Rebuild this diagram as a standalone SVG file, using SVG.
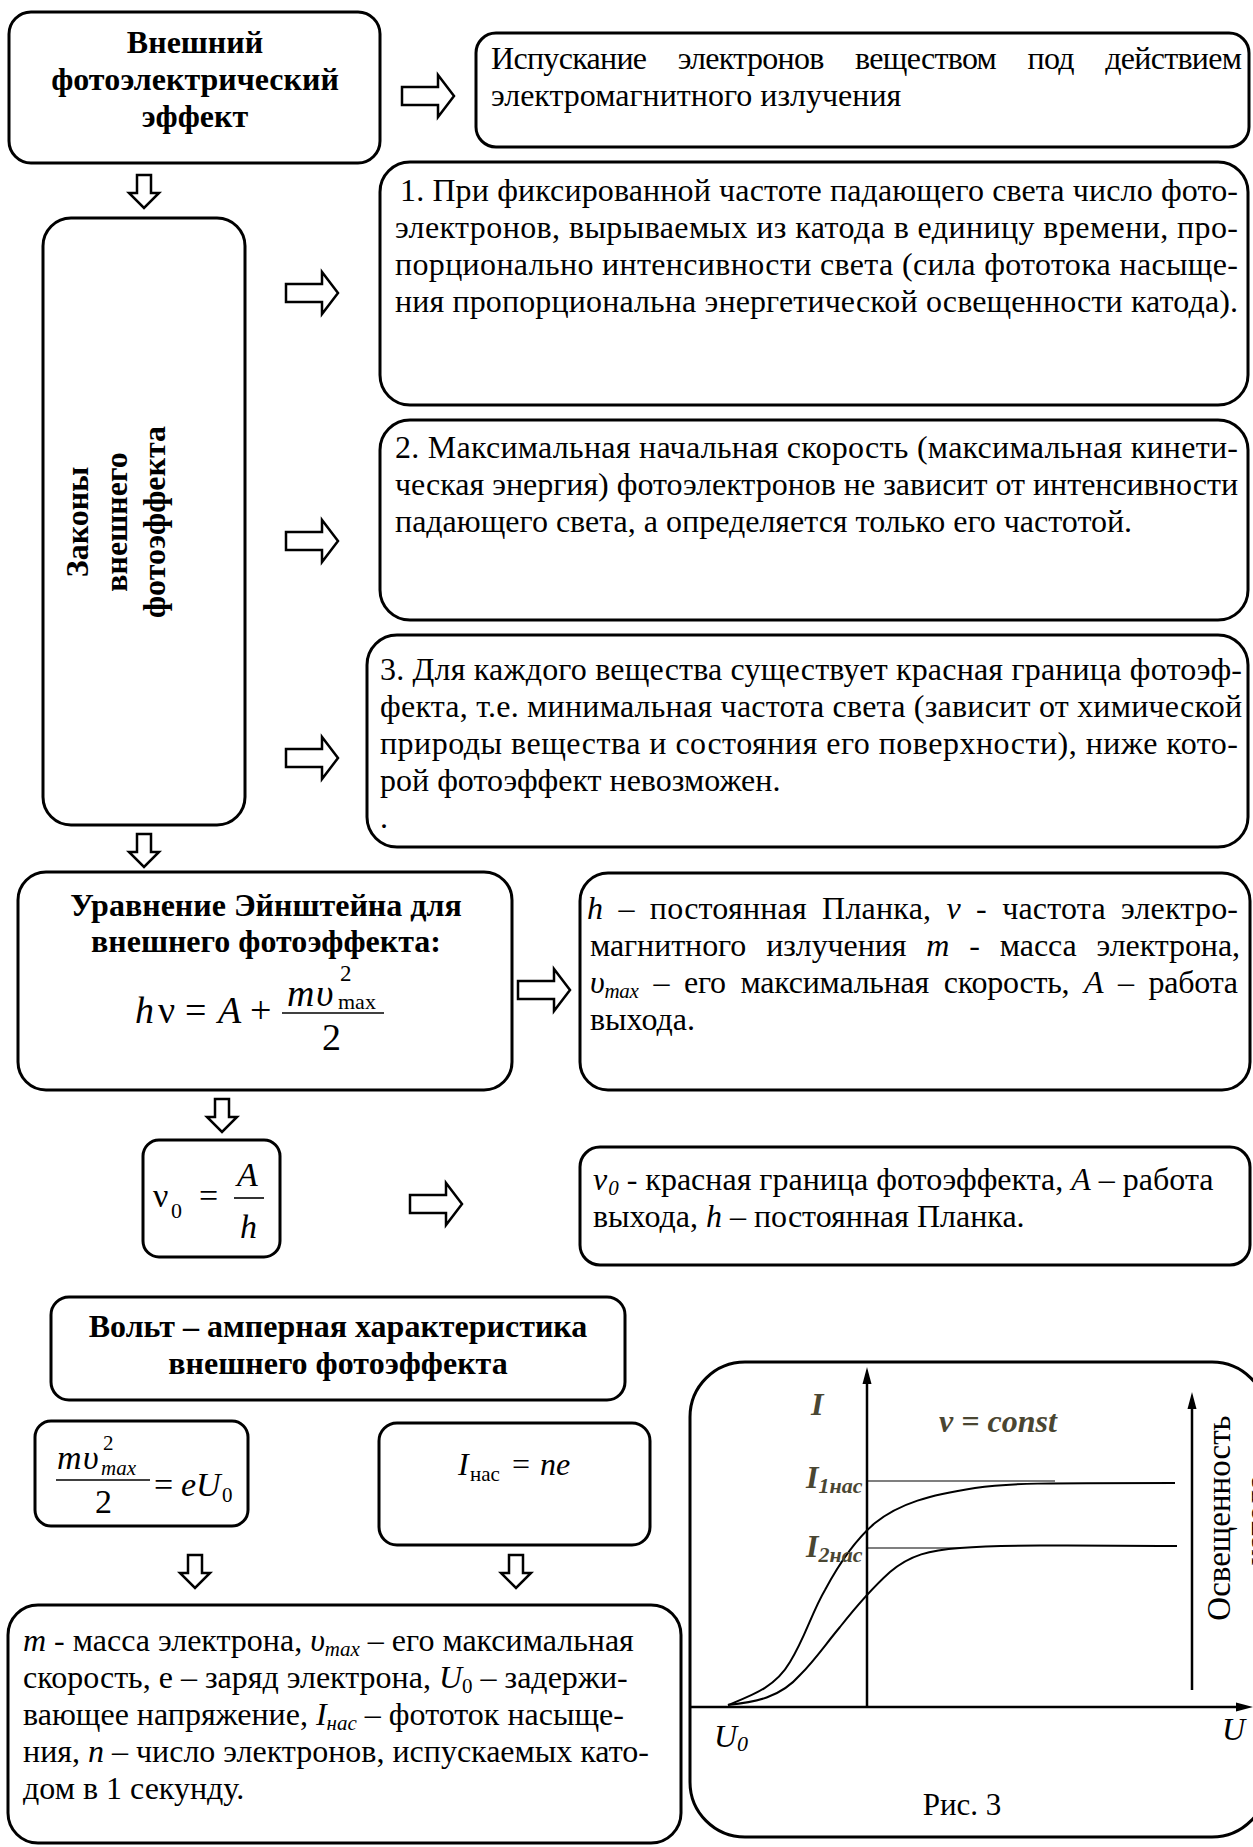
<svg xmlns="http://www.w3.org/2000/svg" width="1253" height="1847" viewBox="0 0 1253 1847" font-family="'Liberation Serif', 'Times New Roman', 'DejaVu Serif', serif">
<style>
.box{fill:#fff;stroke:#000;stroke-width:3}
.t{font-size:32px;fill:#000}
.b{font-weight:700}
.i{font-style:italic}
.c{text-anchor:middle}
.s{font-size:21px}
.f{font-size:38px}
.g{fill:#4a4632;font-weight:700;font-style:italic}
.arr{fill:#fff;stroke:#000;stroke-width:2.5;stroke-linejoin:miter}
.ax{stroke:#000;stroke-width:2.5;fill:none}
.cv{stroke:#000;stroke-width:2;fill:none}
.thin{stroke:#000;stroke-width:1.2;fill:none}
.bar{stroke:#000;stroke-width:1.6}
</style>
<defs>
<path id="ra" d="M0,-9 H36 V-21 L52,0 L36,21 V9 H0 Z"/>
<path id="da" d="M-7,0 V18 H-15 L0,33 L15,18 H7 V0 Z"/>
</defs>
<rect width="1253" height="1847" fill="#fff"/>

<g id="connectors">
<use href="#ra" class="arr" x="402" y="96"/>
<use href="#ra" class="arr" x="286" y="293"/>
<use href="#ra" class="arr" x="286" y="541"/>
<use href="#ra" class="arr" x="286" y="758"/>
<use href="#ra" class="arr" x="518" y="990"/>
<use href="#ra" class="arr" x="410" y="1204"/>
<use href="#da" class="arr" x="144" y="175"/>
<use href="#da" class="arr" x="144" y="834"/>
<use href="#da" class="arr" x="222" y="1099"/>
<use href="#da" class="arr" x="195" y="1555"/>
<use href="#da" class="arr" x="516" y="1555"/>
</g>

<g id="n-effect">
<rect class="box" x="9" y="12" width="371" height="151" rx="22"/>
<text class="t b c" x="195" y="53">Внешний</text>
<text class="t b c" x="195" y="90">фотоэлектрический</text>
<text class="t b c" x="195" y="127">эффект</text>
</g>

<g id="n-definition">
<rect class="box" x="476" y="33" width="773" height="114" rx="20"/>
<text class="t" x="491" y="69" word-spacing="24" textLength="751" lengthAdjust="spacing">Испускание электронов веществом под действием</text>
<text class="t" x="491" y="106">электромагнитного излучения</text>
</g>

<g id="n-laws">
<rect class="box" x="43" y="218" width="202" height="607" rx="28"/>
<text class="t b c" transform="translate(88,522) rotate(-90)">Законы</text>
<text class="t b c" transform="translate(127,522) rotate(-90)">внешнего</text>
<text class="t b c" transform="translate(165,522) rotate(-90)">фотоэффекта</text>
</g>

<g id="n-law1">
<rect class="box" x="380" y="162" width="868" height="243" rx="30"/>
<text class="t" x="400" y="201" textLength="838" lengthAdjust="spacing">1. При фиксированной частоте падающего света число фото-</text>
<text class="t" x="395" y="238" textLength="843" lengthAdjust="spacing">электронов, вырываемых из катода в единицу времени, про-</text>
<text class="t" x="395" y="275" textLength="843" lengthAdjust="spacing">порционально интенсивности света (сила фототока насыще-</text>
<text class="t" x="395" y="312" textLength="843" lengthAdjust="spacing">ния пропорциональна энергетической освещенности катода).</text>
</g>

<g id="n-law2">
<rect class="box" x="380" y="420" width="868" height="200" rx="30"/>
<text class="t" x="395" y="458" textLength="843" lengthAdjust="spacing">2. Максимальная начальная скорость (максимальная кинети-</text>
<text class="t" x="395" y="495" textLength="843" lengthAdjust="spacing">ческая энергия) фотоэлектронов не зависит от интенсивности</text>
<text class="t" x="395" y="532">падающего света, а определяется только его частотой.</text>
</g>

<g id="n-law3">
<rect class="box" x="367" y="635" width="881" height="212" rx="30"/>
<text class="t" x="380" y="680" textLength="862" lengthAdjust="spacing">3. Для каждого вещества существует красная граница фотоэф-</text>
<text class="t" x="380" y="717" textLength="862" lengthAdjust="spacing">фекта, т.е. минимальная частота света (зависит от химической</text>
<text class="t" x="380" y="754" textLength="858" lengthAdjust="spacing">природы вещества и состояния его поверхности), ниже кото-</text>
<text class="t" x="380" y="791">рой фотоэффект невозможен.</text>
<text class="t" x="380" y="828">.</text>
</g>

<g id="n-einstein">
<rect class="box" x="18" y="872" width="494" height="218" rx="28"/>
<text class="t b c" x="266" y="916">Уравнение Эйнштейна для</text>
<text class="t b c" x="266" y="952">внешнего фотоэффекта:</text>
<text class="t i f" x="135" y="1023">h</text>
<text class="t f" x="158" y="1023">ν</text>
<text class="t f" x="185" y="1023">=</text>
<text class="t i f" x="218" y="1023">A</text>
<text class="t f" x="250" y="1023">+</text>
<line class="bar" x1="282" y1="1013" x2="384" y2="1013"/>
<text class="t i f" x="287" y="1006">m</text>
<text class="t i f" x="316" y="1006">υ</text>
<text class="t" style="font-size:23px" x="340" y="981">2</text>
<text class="t" style="font-size:22px" x="338" y="1009">max</text>
<text class="t f" x="322" y="1050">2</text>
</g>

<g id="n-symbols">
<rect class="box" x="580" y="873" width="670" height="217" rx="28"/>
<text class="t" x="587" y="919" word-spacing="7" textLength="651" lengthAdjust="spacing"><tspan class="i">h</tspan> – постоянная Планка, <tspan class="i">ν</tspan> - частота электро-</text>
<text class="t" x="590" y="956" word-spacing="12" textLength="650" lengthAdjust="spacing">магнитного излучения <tspan class="i">m</tspan> - масса электрона,</text>
<text class="t" x="590" y="993" word-spacing="7" textLength="648" lengthAdjust="spacing"><tspan class="i">υ</tspan><tspan class="i s" dy="5">max</tspan><tspan dy="-5"> – его максимальная скорость, </tspan><tspan class="i">A</tspan><tspan> – работа</tspan></text>
<text class="t" x="590" y="1030">выхода.</text>
</g>

<g id="n-redlimit">
<rect class="box" x="143" y="1140" width="137" height="117" rx="16"/>
<text class="t" style="font-size:34px" x="153" y="1207">ν</text>
<text class="t" style="font-size:22px" x="171" y="1218">0</text>
<text class="t" style="font-size:34px" x="199" y="1207">=</text>
<text class="t i" style="font-size:34px" x="237" y="1186">A</text>
<line class="bar" x1="234" y1="1198" x2="264" y2="1198"/>
<text class="t i" style="font-size:34px" x="240" y="1238">h</text>
</g>

<g id="n-redlimit-text">
<rect class="box" x="580" y="1147" width="670" height="118" rx="20"/>
<text class="t" x="593" y="1190"><tspan class="i">ν</tspan><tspan class="i s" dx="1" dy="5">0</tspan><tspan dy="-5"> - красная граница фотоэффекта, </tspan><tspan class="i">A</tspan><tspan> – работа</tspan></text>
<text class="t" x="593" y="1227">выхода, <tspan class="i">h</tspan> – постоянная Планка.</text>
</g>

<g id="n-iv">
<rect class="box" x="51" y="1297" width="574" height="103" rx="18"/>
<text class="t b c" x="338" y="1337">Вольт – амперная характеристика</text>
<text class="t b c" x="338" y="1374">внешнего фотоэффекта</text>
</g>

<g id="n-stopping">
<rect class="box" x="35" y="1421" width="213" height="105" rx="16"/>
<text class="t i" style="font-size:34px" x="57" y="1469">m</text>
<text class="t i" style="font-size:34px" x="83" y="1469">υ</text>
<text class="t" style="font-size:21px" x="103" y="1450">2</text>
<text class="t i" style="font-size:21px" x="101" y="1475">max</text>
<line class="bar" x1="56" y1="1480" x2="150" y2="1480"/>
<text class="t" style="font-size:34px" x="95" y="1513">2</text>
<text class="t" style="font-size:34px" x="154" y="1496">=</text>
<text class="t i" style="font-size:34px" x="181" y="1496">eU</text>
<text class="t" style="font-size:21px" x="222" y="1502">0</text>
</g>

<g id="n-saturation">
<rect class="box" x="379" y="1423" width="271" height="122" rx="18"/>
<text class="t i" style="font-size:32px" x="458" y="1475">I</text>
<text class="t" style="font-size:21px" x="470" y="1481">нас</text>
<text class="t" style="font-size:32px" x="512" y="1475">=</text>
<text class="t i" style="font-size:32px" x="540" y="1475">ne</text>
</g>

<g id="n-notation">
<rect class="box" x="8" y="1605" width="673" height="238" rx="30"/>
<text class="t" x="23" y="1651"><tspan class="i">m</tspan> - масса электрона, <tspan class="i">υ</tspan><tspan class="i s" dy="5">max</tspan><tspan dy="-5"> – его максимальная</tspan></text>
<text class="t" x="23" y="1688">скорость, е – заряд электрона, <tspan class="i">U</tspan><tspan class="s" dy="5">0</tspan><tspan dy="-5"> – задержи-</tspan></text>
<text class="t" x="23" y="1725">вающее напряжение, <tspan class="i">I</tspan><tspan class="i s" dy="5">нас</tspan><tspan dy="-5"> – фототок насыще-</tspan></text>
<text class="t" x="23" y="1762">ния, <tspan class="i">n</tspan> – число электронов, испускаемых като-</text>
<text class="t" x="23" y="1799">дом в 1 секунду.</text>
</g>

<g id="n-graph">
<rect class="box" x="690" y="1362" width="577" height="475" rx="55"/>
<line class="ax" x1="690" y1="1707" x2="1240" y2="1707"/>
<polygon points="1253,1707 1236,1702.5 1236,1711.5" fill="#000"/>
<line class="ax" x1="867" y1="1707" x2="867" y2="1382"/>
<polygon points="867,1367 862.5,1384 871.5,1384" fill="#000"/>
<line class="ax" x1="1192" y1="1690" x2="1192" y2="1405"/>
<polygon points="1192,1392 1187.5,1409 1196.5,1409" fill="#000"/>
<line class="thin" x1="867" y1="1481" x2="1055" y2="1481"/>
<line class="thin" x1="867" y1="1548" x2="960" y2="1548"/>
<path class="cv" d="M728,1705 C750,1696 775,1688 790,1662 C805,1638 812,1612 825,1590 C840,1562 855,1540 875,1523 C900,1503 930,1495 975,1488 C1010,1483 1040,1483 1175,1483"/>
<path class="cv" d="M728,1705 C755,1702 780,1698 800,1675 C815,1660 825,1645 840,1627 C855,1608 870,1590 890,1572 C910,1555 930,1550 960,1548 C1000,1545 1060,1545 1177,1546"/>
<text class="t g" x="811" y="1415">I</text>
<text class="t g" x="939" y="1432">ν = const</text>
<text class="t g" x="806" y="1488">I<tspan style="font-size:22px" dy="5">1нас</tspan></text>
<text class="t g" x="806" y="1557">I<tspan style="font-size:22px" dy="5">2нас</tspan></text>
<text class="t i" x="714" y="1747">U<tspan style="font-size:22px" dy="4">0</tspan></text>
<text class="t i" x="1222" y="1740">U</text>
<text class="t c" style="font-size:31px" x="962" y="1815">Рис. 3</text>
<text class="t c" style="font-size:33px" transform="translate(1230,1518) rotate(-90)">Освещенность</text>
<text class="t c" style="font-size:33px" transform="translate(1268,1520) rotate(-90)">катода</text>
</g>
</svg>
